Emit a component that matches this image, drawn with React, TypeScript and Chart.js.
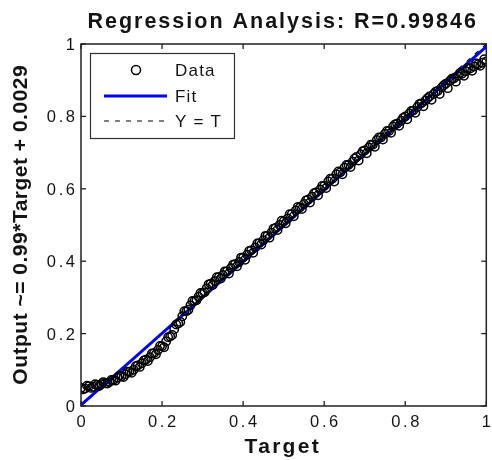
import React, { useEffect, useRef } from "react";
import { Chart, registerables } from "chart.js";

Chart.register(...registerables);

const TITLE = "Regression Analysis: R=0.99846";
const X_TITLE = "Target";
const Y_TITLE = "Output ~= 0.99*Target + 0.0029";
const LEGEND_LABELS = ["Data", "Fit", "Y = T"];

const TICK_VALUES = [0, 0.2, 0.4, 0.6, 0.8, 1];
const X_TICK_LABELS = ["0", "0.2", "0.4", "0.6", "0.8", "1"];
const Y_TICK_LABELS = ["0", "0.2", "0.4", "0.6", "0.8", "1"];

const TARGET_A = [
  0.0, 0.01, 0.02, 0.03, 0.04, 0.05, 0.06, 0.07, 0.08, 0.09,
  0.1, 0.11, 0.12, 0.13, 0.14, 0.15, 0.16, 0.17, 0.18, 0.19,
  0.2, 0.21, 0.22, 0.23, 0.24, 0.25, 0.26, 0.27, 0.28, 0.29,
  0.3, 0.31, 0.32, 0.33, 0.34, 0.35, 0.36, 0.37, 0.38, 0.39,
  0.4, 0.41, 0.42, 0.43, 0.44, 0.45, 0.46, 0.47, 0.48, 0.49,
  0.5, 0.51, 0.52, 0.53, 0.54, 0.55, 0.56, 0.57, 0.58, 0.59,
  0.6, 0.61, 0.62, 0.63, 0.64, 0.65, 0.66, 0.67, 0.68, 0.69,
  0.7, 0.71, 0.72, 0.73, 0.74, 0.75, 0.76, 0.77, 0.78, 0.79,
  0.8, 0.81, 0.82, 0.83, 0.84, 0.85, 0.86, 0.87, 0.88, 0.89,
  0.9, 0.91, 0.92, 0.93, 0.94, 0.95, 0.96, 0.97, 0.98, 0.99, 1.0,
];
const OUTPUT_A = [
  0.05, 0.048, 0.055, 0.053, 0.058, 0.06, 0.063, 0.066, 0.072, 0.078,
  0.082, 0.088, 0.095, 0.1, 0.112, 0.118, 0.128, 0.135, 0.146, 0.155,
  0.165, 0.178, 0.192, 0.212, 0.228, 0.248, 0.262, 0.278, 0.29, 0.302,
  0.312, 0.325, 0.338, 0.345, 0.356, 0.362, 0.372, 0.381, 0.392, 0.398,
  0.41, 0.418, 0.43, 0.438, 0.45, 0.458, 0.47, 0.479, 0.492, 0.5,
  0.51, 0.518, 0.53, 0.54, 0.548, 0.558, 0.57, 0.578, 0.59, 0.598,
  0.608, 0.62, 0.628, 0.64, 0.646, 0.658, 0.666, 0.675, 0.688, 0.695,
  0.706, 0.714, 0.722, 0.735, 0.742, 0.752, 0.76, 0.772, 0.78, 0.788,
  0.8, 0.808, 0.816, 0.826, 0.836, 0.844, 0.855, 0.862, 0.87, 0.88,
  0.89, 0.898, 0.905, 0.912, 0.918, 0.925, 0.932, 0.938, 0.944, 0.948, 0.952,
];
const TARGET_B = [
  0.005, 0.015, 0.025, 0.035, 0.045, 0.055, 0.065, 0.075, 0.085, 0.095,
  0.105, 0.115, 0.125, 0.135, 0.145, 0.155, 0.165, 0.175, 0.185, 0.195,
  0.205, 0.215, 0.225, 0.235, 0.245, 0.255, 0.265, 0.275, 0.285, 0.295,
  0.305, 0.315, 0.325, 0.335, 0.345, 0.355, 0.365, 0.375, 0.385, 0.395,
  0.405, 0.415, 0.425, 0.435, 0.445, 0.455, 0.465, 0.475, 0.485, 0.495,
  0.505, 0.515, 0.525, 0.535, 0.545, 0.555, 0.565, 0.575, 0.585, 0.595,
  0.605, 0.615, 0.625, 0.635, 0.645, 0.655, 0.665, 0.675, 0.685, 0.695,
  0.705, 0.715, 0.725, 0.735, 0.745, 0.755, 0.765, 0.775, 0.785, 0.795,
  0.805, 0.815, 0.825, 0.835, 0.845, 0.855, 0.865, 0.875, 0.885, 0.895,
  0.905, 0.915, 0.925, 0.935, 0.945, 0.955, 0.965, 0.975, 0.985, 0.995,
];
const OUTPUT_B = [
  0.046, 0.056, 0.05, 0.06, 0.055, 0.066, 0.062, 0.072, 0.07, 0.084,
  0.08, 0.095, 0.092, 0.11, 0.108, 0.126, 0.124, 0.145, 0.143, 0.166,
  0.162, 0.19, 0.196, 0.225, 0.232, 0.262, 0.266, 0.29, 0.292, 0.312,
  0.314, 0.336, 0.334, 0.356, 0.352, 0.372, 0.366, 0.39, 0.386, 0.41,
  0.404, 0.428, 0.423, 0.449, 0.446, 0.47, 0.465, 0.49, 0.486, 0.512,
  0.505, 0.53, 0.524, 0.55, 0.544, 0.568, 0.562, 0.588, 0.582, 0.608,
  0.602, 0.628, 0.62, 0.648, 0.64, 0.666, 0.66, 0.684, 0.678, 0.704,
  0.698, 0.722, 0.716, 0.742, 0.736, 0.76, 0.755, 0.778, 0.774, 0.796,
  0.792, 0.815, 0.81, 0.834, 0.828, 0.85, 0.846, 0.868, 0.862, 0.886,
  0.878, 0.904, 0.896, 0.92, 0.912, 0.934, 0.926, 0.946, 0.94, 0.958,
];

const FIT_X = [0, 1];
const FIT_Y = [0.0029, 0.9929];
const YT_X = [0, 1];
const YT_Y = [0, 1];

function txt(
  ctx: CanvasRenderingContext2D,
  s: string,
  x: number,
  y: number,
  font: string,
  ls: number,
  align: "left" | "center" | "right",
  rot = 0,
  color = "#141414"
) {
  ctx.save();
  ctx.font = font;
  (ctx as any).letterSpacing = ls + "px";
  ctx.fillStyle = color;
  ctx.textBaseline = "alphabetic";
  ctx.textAlign = "left";
  const w = ctx.measureText(s).width - ls;
  const off = align === "left" ? 0 : align === "center" ? -w / 2 : -w;
  ctx.translate(x, y);
  if (rot) ctx.rotate(rot);
  ctx.fillText(s, off, 0);
  ctx.restore();
}

const FONT = "'Liberation Sans', Arial, sans-serif";

const decor = {
  id: "decor",
  afterDraw(chart: any) {
    const { ctx, chartArea: a, scales } = chart;
    const xs = scales.x;
    const ys = scales.y;
    ctx.save();
    ctx.strokeStyle = "#202020";
    ctx.lineWidth = 1.5;
    ctx.strokeRect(a.left, a.top, a.right - a.left, a.bottom - a.top);
    ctx.lineWidth = 1.3;
    const ln = (x1: number, y1: number, x2: number, y2: number) => {
      ctx.beginPath();
      ctx.moveTo(x1, y1);
      ctx.lineTo(x2, y2);
      ctx.stroke();
    };
    xs.ticks.forEach((t: any) => {
      const px = xs.getPixelForValue(t.value);
      ln(px, a.bottom, px, a.bottom - 5);
      ln(px, a.top, px, a.top + 5);
    });
    ys.ticks.forEach((t: any) => {
      const py = ys.getPixelForValue(t.value);
      ln(a.left, py, a.left + 5, py);
      ln(a.right, py, a.right - 5, py);
    });
    ctx.restore();

    const tf = "16.5px " + FONT;
    xs.ticks.forEach((t: any, i: number) => {
      const px = xs.getPixelForValue(t.value);
      txt(ctx, X_TICK_LABELS[i], px, a.bottom + 21, tf, 2.6, "center");
    });
    ys.ticks.forEach((t: any, i: number) => {
      const py = ys.getPixelForValue(t.value);
      txt(ctx, Y_TICK_LABELS[i], a.left - 6, py + 6, tf, 2.6, "right");
    });

    const cx = (a.left + a.right) / 2;
    const cy = (a.top + a.bottom) / 2;
    txt(ctx, TITLE, cx - 2, 28, "bold 21.5px " + FONT, 2, "center");
    txt(ctx, X_TITLE, cx - 2, 453, "bold 21px " + FONT, 2.3, "center");
    txt(ctx, Y_TITLE, 27, cy, "bold 21px " + FONT, 0.5, "center", -Math.PI / 2);

    ctx.save();
    ctx.fillStyle = "#ffffff";
    ctx.fillRect(90, 53, 144, 85);
    ctx.strokeStyle = "#303030";
    ctx.lineWidth = 1.2;
    ctx.strokeRect(90.5, 53.5, 144, 85);
    ctx.beginPath();
    ctx.strokeStyle = "#000";
    ctx.lineWidth = 1.5;
    ctx.arc(136, 70, 4.5, 0, Math.PI * 2);
    ctx.stroke();
    ctx.strokeStyle = "#0000ff";
    ctx.lineWidth = 3;
    ctx.beginPath();
    ctx.moveTo(104, 96);
    ctx.lineTo(167, 96);
    ctx.stroke();
    ctx.strokeStyle = "#000";
    ctx.lineWidth = 1.2;
    ctx.setLineDash([5, 6]);
    ctx.beginPath();
    ctx.moveTo(104, 121);
    ctx.lineTo(167, 121);
    ctx.stroke();
    ctx.restore();
    const lf = "17px " + FONT;
    txt(ctx, LEGEND_LABELS[0], 175, 76, lf, 1.2, "left");
    txt(ctx, LEGEND_LABELS[1], 175, 102, lf, 1.2, "left");
    txt(ctx, LEGEND_LABELS[2], 175, 127, lf, 1.2, "left");
  },
};

export default function App() {
  const ref = useRef<HTMLCanvasElement>(null);
  useEffect(() => {
    if (!ref.current) return;
    const dataPts = [
      ...TARGET_A.map((t, i) => ({ x: t, y: OUTPUT_A[i] })),
      ...TARGET_B.map((t, i) => ({ x: t, y: OUTPUT_B[i] })),
    ];
    const chart = new Chart(ref.current, {
      type: "scatter",
      data: {
        datasets: [
          {
            label: "Data",
            data: dataPts,
            pointStyle: "circle",
            pointRadius: 4.2,
            borderColor: "#000000",
            backgroundColor: "rgba(0,0,0,0)",
            borderWidth: 1.5,
            showLine: false,
          },
          {
            label: "Fit",
            data: FIT_X.map((x, i) => ({ x, y: FIT_Y[i] })),
            showLine: true,
            borderColor: "#0000ff",
            borderWidth: 3,
            pointRadius: 0,
          },
          {
            label: "Y = T",
            data: YT_X.map((x, i) => ({ x, y: YT_Y[i] })),
            showLine: true,
            borderColor: "#000000",
            borderWidth: 1.2,
            borderDash: [5, 6],
            pointRadius: 0,
          },
        ],
      },
      options: {
        animation: false,
        responsive: false,
        layout: { padding: { top: 44, right: 4, left: 0, bottom: 0 } },
        plugins: {
          legend: { display: false },
          tooltip: { enabled: false },
          title: { display: false },
        },
        scales: {
          x: {
            type: "linear",
            min: 0,
            max: 1,
            ticks: { display: false },
            grid: { display: false },
            border: { display: false },
            afterBuildTicks: (s: any) => {
              s.ticks = TICK_VALUES.map((v) => ({ value: v }));
            },
            afterFit: (s: any) => {
              s.height = 54;
            },
          },
          y: {
            type: "linear",
            min: 0,
            max: 1,
            ticks: { display: false },
            grid: { display: false },
            border: { display: false },
            afterBuildTicks: (s: any) => {
              s.ticks = TICK_VALUES.map((v) => ({ value: v }));
            },
            afterFit: (s: any) => {
              s.width = 81;
            },
          },
        },
      } as any,
      plugins: [decor],
    });
    return () => chart.destroy();
  }, []);
  return (
    <div style={{ position: "absolute", left: 0, top: 0, width: 492, height: 460, background: "#fff" }}>
      <canvas ref={ref} width={492} height={460} />
    </div>
  );
}
